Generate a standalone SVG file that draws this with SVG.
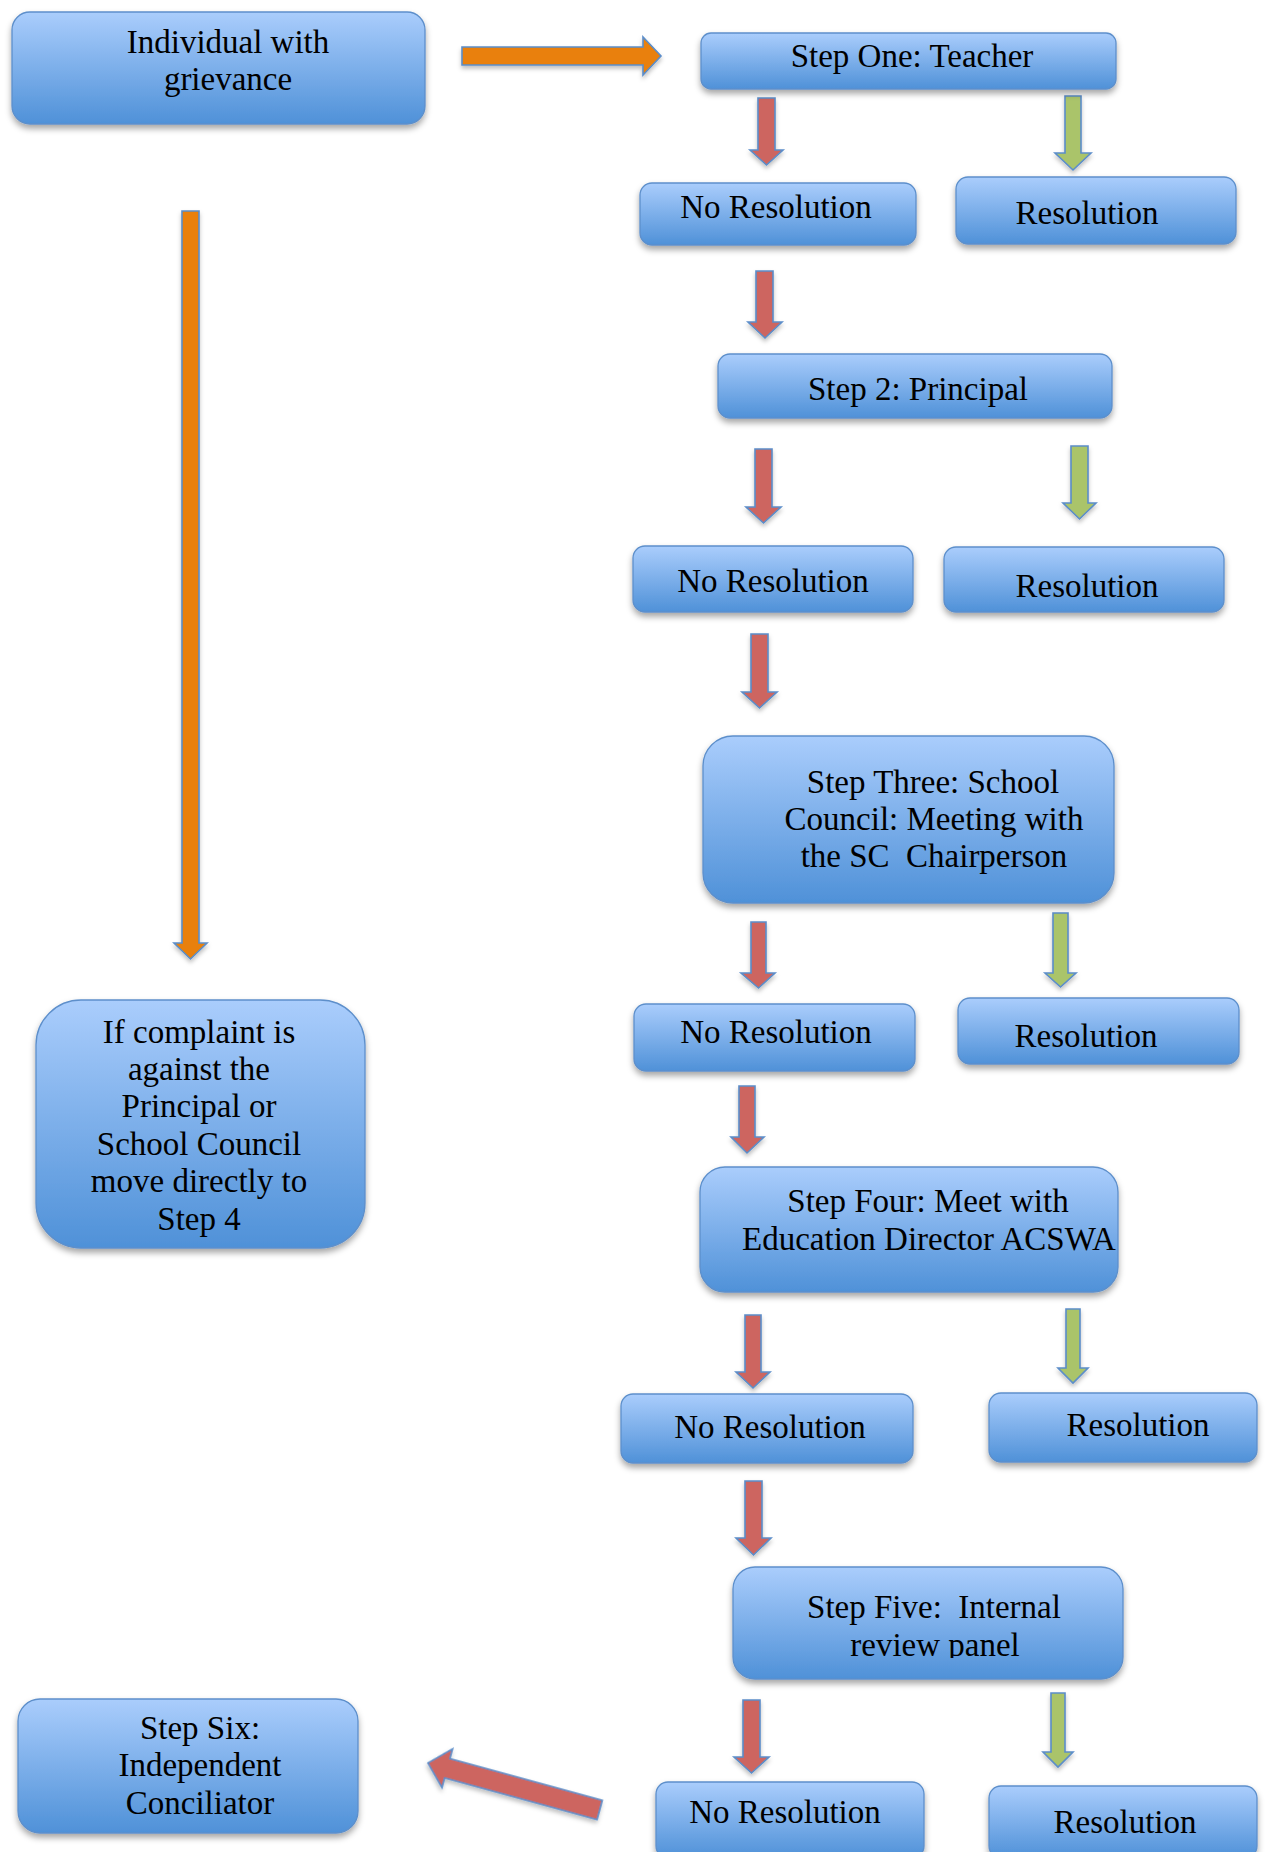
<svg xmlns="http://www.w3.org/2000/svg" width="1268" height="1852" viewBox="0 0 1268 1852">
<defs>
<linearGradient id="boxGrad" x1="0" y1="0" x2="0" y2="1">
<stop offset="0" stop-color="#AACDFC"/>
<stop offset="1" stop-color="#4F91D8"/>
</linearGradient>
<filter id="shadow" x="-10%" y="-10%" width="120%" height="140%">
<feDropShadow dx="0" dy="4" stdDeviation="3" flood-color="#000" flood-opacity="0.35"/>
</filter>
<filter id="ashadow" x="-20%" y="-10%" width="140%" height="130%">
<feDropShadow dx="0" dy="3" stdDeviation="2" flood-color="#000" flood-opacity="0.25"/>
</filter>
<clipPath id="clip5"><rect x="733" y="1560" width="390" height="98"/></clipPath>
</defs>
<style>
.box{fill:url(#boxGrad);stroke:#5D8FCB;stroke-width:1.3;filter:url(#shadow)}
.t{font-family:"Liberation Serif","Times New Roman",serif;font-size:33px;fill:#000;text-anchor:middle}
.ar{stroke:#5B8DC9;stroke-width:1.6;stroke-linejoin:miter;filter:url(#ashadow)}
.red{fill:#CD6560}
.green{fill:#AAC46A}
.orange{fill:#E98007}
</style>

<g id="connectors">
<path class="ar orange" d="M462 47 H643 V37 L661 56 L643 75 V65 H462 Z"/>
<path class="ar orange" d="M182 211 H199 V943 H207 L190.5 959 L174 943 H182 Z"/>
<path class="ar red" d="M758 98 H775 V150 H783 L766.5 165 L750 150 H758 Z"/>
<path class="ar green" d="M1065 96 H1081 V153 H1091 L1073 170 L1055 153 H1065 Z"/>
<path class="ar red" d="M756 271 H773 V322 H782 L765 338 L748 322 H756 Z"/>
<path class="ar red" d="M755 449 H772 V507 H781 L763.5 523 L746 507 H755 Z"/>
<path class="ar green" d="M1071 446 H1088 V503 H1096 L1079.5 519 L1063 503 H1071 Z"/>
<path class="ar red" d="M751 634 H768 V692 H777 L759.5 708 L742 692 H751 Z"/>
<path class="ar red" d="M751 922 H766 V973 H775 L758.5 988 L741 973 H751 Z"/>
<path class="ar green" d="M1053 913 H1068 V973 H1076 L1060.5 987 L1045 973 H1053 Z"/>
<path class="ar red" d="M739 1086 H755 V1137 H764 L747 1153 L731 1137 H739 Z"/>
<path class="ar red" d="M745 1315 H761 V1372 H770 L753 1388 L736 1372 H745 Z"/>
<path class="ar green" d="M1066 1309 H1080 V1368 H1088 L1073 1383 L1058 1368 H1066 Z"/>
<path class="ar red" d="M745 1481 H762 V1538 H771 L753.5 1555 L736 1538 H745 Z"/>
<path class="ar red" d="M743 1700 H760 V1757 H769 L751.5 1773 L734 1757 H743 Z"/>
<path class="ar green" d="M1051 1693 H1065 V1752 H1073 L1058 1767 L1043 1752 H1051 Z"/>
<path class="ar red" transform="translate(428 1763) rotate(15.3)" d="M0 0 L20 -20 L20 -10 L178 -10 L178 10 L20 10 L20 20 Z"/>
</g>

<g id="n-individual">
<rect class="box" x="12" y="12" width="413" height="112" rx="18"/>
<text class="t" x="228" y="53">Individual with</text>
<text class="t" x="228" y="90">grievance</text>
</g>

<g id="n-step1">
<rect class="box" x="701" y="33" width="415" height="56" rx="10"/>
<text class="t" x="912" y="67">Step One: Teacher</text>
</g>

<g id="n-nores1">
<rect class="box" x="640" y="183" width="276" height="62" rx="12"/>
<text class="t" x="776" y="218">No Resolution</text>
</g>

<g id="n-res1">
<rect class="box" x="956" y="177" width="280" height="67" rx="12"/>
<text class="t" x="1087" y="224">Resolution</text>
</g>

<g id="n-step2">
<rect class="box" x="718" y="354" width="394" height="64" rx="12"/>
<text class="t" x="918" y="400">Step 2: Principal</text>
</g>

<g id="n-nores2">
<rect class="box" x="633" y="546" width="280" height="66" rx="12"/>
<text class="t" x="773" y="592">No Resolution</text>
</g>

<g id="n-res2">
<rect class="box" x="944" y="547" width="280" height="65" rx="12"/>
<text class="t" x="1087" y="597">Resolution</text>
</g>

<g id="n-step3">
<rect class="box" x="703" y="736" width="411" height="167" rx="30"/>
<text class="t" x="933" y="793">Step Three: School</text>
<text class="t" x="934" y="830">Council: Meeting with</text>
<text class="t" x="934" y="867" xml:space="preserve">the SC  Chairperson</text>
</g>

<g id="n-nores3">
<rect class="box" x="634" y="1004" width="281" height="67" rx="12"/>
<text class="t" x="776" y="1043">No Resolution</text>
</g>

<g id="n-res3">
<rect class="box" x="958" y="998" width="281" height="66" rx="12"/>
<text class="t" x="1086" y="1047">Resolution</text>
</g>

<g id="n-step4">
<rect class="box" x="700" y="1167" width="418" height="125" rx="25"/>
<text class="t" x="928" y="1212">Step Four: Meet with</text>
<text class="t" x="929" y="1250">Education Director ACSWA</text>
</g>

<g id="n-nores4">
<rect class="box" x="621" y="1394" width="292" height="69" rx="12"/>
<text class="t" x="770" y="1438">No Resolution</text>
</g>

<g id="n-res4">
<rect class="box" x="989" y="1393" width="268" height="69" rx="12"/>
<text class="t" x="1138" y="1436">Resolution</text>
</g>

<g id="n-step5">
<rect class="box" x="733" y="1567" width="390" height="112" rx="22"/>
<text class="t" x="934" y="1618" xml:space="preserve">Step Five:  Internal</text>
<text class="t" x="935" y="1656" clip-path="url(#clip5)">review panel</text>
</g>

<g id="n-nores5">
<rect class="box" x="656" y="1782" width="268" height="76" rx="12"/>
<text class="t" x="785" y="1823">No Resolution</text>
</g>

<g id="n-res5">
<rect class="box" x="989" y="1786" width="268" height="72" rx="12"/>
<text class="t" x="1125" y="1833">Resolution</text>
</g>

<g id="n-complaint">
<rect class="box" x="36" y="1000" width="329" height="248" rx="45"/>
<text class="t" x="199" y="1043">If complaint is</text>
<text class="t" x="199" y="1080">against the</text>
<text class="t" x="199" y="1117">Principal or</text>
<text class="t" x="199" y="1155">School Council</text>
<text class="t" x="199" y="1192">move directly to</text>
<text class="t" x="199" y="1230">Step 4</text>
</g>

<g id="n-step6">
<rect class="box" x="18" y="1699" width="340" height="134" rx="22"/>
<text class="t" x="200" y="1739">Step Six:</text>
<text class="t" x="200" y="1776">Independent</text>
<text class="t" x="200" y="1814">Conciliator</text>
</g>
</svg>
